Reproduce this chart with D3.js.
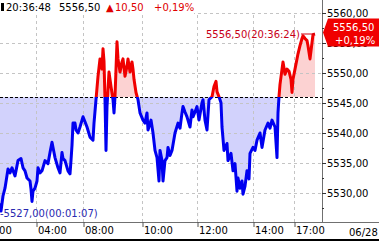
<!DOCTYPE html>
<html><head><meta charset="utf-8">
<script src="https://cdn.jsdelivr.net/npm/d3@7"></script>
<style>body{margin:0;background:#fff}svg{display:block;font-family:"DejaVu Sans",sans-serif}</style>
</head><body><svg id="c" width="379" height="242"></svg>
<script>
// sample index (trade sequence) and price
const bars = [
  0,1,3,5,8,10,12,15,18,21,
  23,25,27,30,31,32,33,35,37,38,
  40,42,45,48,50,52,54,55,58,60,
  62,63,65,68,70,71,72,73,75,76,
  78,80,83,85,87,90,93,94,96,98,
  100,102,103,104,105,106,107,109,111,113,
  114,115,116,117,118,120,122,123,125,127,
  128,130,132,133,134,136,138,140,143,145,
  147,148,151,153,155,157,159,160,162,163,
  165,167,168,170,172,175,178,180,182,183,
  185,187,190,192,193,195,197,199,202,203,
  205,207,209,212,214,216,217,219,221,222,
  224,227,228,231,233,235,237,238,240,242,
  243,245,247,249,250,253,255,257,260,262,
  265,268,270,272,275,277,278,279,280,283,
  285,287,289,291,292,293,295,298,300,302,
  303,305,307,308,310,312,313,315
];
const prices = [
  5528.3,5527.0,5529.5,5530.8,5534.0,5533.35,5534.2,5532.85,5535.4,5535.75,
  5534.2,5533.7,5532.5,5532.0,5530.65,5528.6,5530.3,5530.8,5532.0,5534.2,
  5533.35,5533.7,5535.4,5534.9,5536.75,5538.45,5536.75,5535.9,5534.2,5533.35,
  5536.75,5535.75,5535.4,5533.7,5533.2,5535.4,5537.95,5541.65,5541.65,5540.5,
  5540.0,5541.0,5542.7,5541.85,5541.0,5539.3,5538.8,5541.65,5545.55,5549.45,
  5552.35,5550.65,5554.05,5552.0,5545.55,5537.1,5544.4,5550.15,5547.75,5545.55,
  5543.35,5546.05,5550.65,5555.2,5552.35,5550.15,5551.85,5552.35,5549.45,5551.15,
  5552.35,5550.15,5551.85,5550.65,5548.95,5546.75,5545.55,5543.35,5542.15,5541.65,
  5543.35,5540.5,5542.15,5540.0,5537.1,5535.9,5532.0,5537.1,5535.4,5532.0,
  5535.4,5535.9,5537.6,5536.25,5537.1,5540.0,5541.65,5540.8,5543.35,5544.4,
  5543.5,5542.7,5541.0,5543.85,5542.7,5543.5,5544.4,5542.15,5545.05,5545.55,
  5542.15,5540.5,5545.55,5546.05,5547.75,5548.6,5546.9,5546.05,5545.05,5541.0,
  5537.1,5538.25,5535.4,5536.6,5533.7,5534.9,5530.3,5532.5,5530.8,5532.0,
  5529.8,5531.15,5533.7,5532.35,5536.6,5537.6,5537.1,5538.8,5540.0,5537.6,
  5540.5,5541.65,5540.8,5542.15,5541.0,5535.9,5543.35,5546.05,5548.1,5551.85,
  5549.8,5550.65,5550.3,5548.95,5546.75,5548.95,5550.65,5553.2,5554.55,5555.75,
  5556.2,5555.75,5555.4,5554.55,5552.35,5555.05,5556.4,5556.5
];
const prevClose = 5546.0;
const lastTime = "20:36:48";
const lastPrice = 5556.5;
const change = 10.5;
const changePct = 0.19;
const highPrice = 5556.5, highTime = "20:36:24", highBar = 315;
const lowPrice = 5527.0, lowTime = "00:01:07", lowBar = 1;
const xTickBars = [-19, 36, 83, 142, 197, 253, 294];
const xTickLabels = ["00:00","04:00","08:00","10:00","12:00","14:00","17:00"];
const yTicks = [5530, 5535, 5540, 5545, 5550, 5555, 5560];
const yMinorTicks = [5527.5, 5532.5, 5537.5, 5542.5, 5547.5, 5552.5, 5557.5];
const dateLabel = "06/28";

const data = bars.map((b, i) => ({b, p: prices[i]}));
const fmt = v => d3.format(".2f")(v).replace(".", ",");

const W = 379, H = 242, axisX = 322, axisY = 222;
const svg = d3.select("#c");
const x = d3.scaleLinear().domain([0, 321]).range([0, 321]);
const y = d3.scaleLinear().domain([5530, 5560]).range([193, 13]);
const yRef = y(prevClose);

const defs = svg.append("defs");
defs.append("clipPath").attr("id", "above").append("rect")
  .attr("x", 0).attr("y", 0).attr("width", axisX).attr("height", yRef);
defs.append("clipPath").attr("id", "below").append("rect")
  .attr("x", 0).attr("y", yRef).attr("width", axisX).attr("height", axisY - yRef);

const area = d3.area().x(d => x(d.b)).y0(yRef).y1(d => y(d.p));
const line = d3.line().x(d => x(d.b)).y(d => y(d.p));

svg.append("path").datum(data).attr("d", area).attr("fill", "#d2d2fc").attr("clip-path", "url(#below)");
svg.append("path").datum(data).attr("d", area).attr("fill", "#fcd2d2").attr("clip-path", "url(#above)");

// grid
const grid = svg.append("g").attr("stroke", "#c4c4c4").attr("stroke-dasharray", "3,3").attr("stroke-width", 1);
grid.selectAll(".h").data(yTicks).join("line")
  .attr("x1", 0).attr("x2", axisX).attr("y1", d => Math.round(y(d)) + 0.5).attr("y2", d => Math.round(y(d)) + 0.5);
grid.selectAll(".v").data(xTickBars).join("line")
  .attr("x1", d => Math.round(x(d)) + 0.5).attr("x2", d => Math.round(x(d)) + 0.5).attr("y1", 15).attr("y2", axisY);

// reference line
svg.append("line").attr("x1", 0).attr("x2", axisX).attr("y1", Math.round(yRef) + 0.5).attr("y2", Math.round(yRef) + 0.5)
  .attr("stroke", "#000").attr("stroke-dasharray", "3,2");

// price line
svg.append("path").datum(data).attr("d", line).attr("fill", "none").attr("stroke", "#0000f0")
  .attr("stroke-width", 3).attr("stroke-linejoin", "round").attr("clip-path", "url(#below)");
svg.append("path").datum(data).attr("d", line).attr("fill", "none").attr("stroke", "#f00000")
  .attr("stroke-width", 3).attr("stroke-linejoin", "round").attr("clip-path", "url(#above)");

// high / low labels
svg.append("line").attr("x1", x(highBar) - 14).attr("x2", x(highBar)).attr("y1", y(highPrice)).attr("y2", y(highPrice))
  .attr("stroke", "#d00010").attr("stroke-width", 1);
svg.append("text").attr("x", x(highBar) - 15).attr("y", y(highPrice) + 3.5).attr("text-anchor", "end")
  .attr("font-size", 10).attr("fill", "#c80018").text(fmt(highPrice) + "(" + highTime + ")");
svg.append("text").attr("x", x(lowBar) - 1).attr("y", y(lowPrice) + 6).attr("font-size", 10)
  .attr("fill", "#2828b0").text("-" + fmt(lowPrice) + "(" + lowTime + ")");

// axes frame
svg.append("line").attr("x1", axisX + 0.5).attr("x2", axisX + 0.5).attr("y1", 0).attr("y2", axisY).attr("stroke", "#707070");
svg.append("line").attr("x1", 0).attr("x2", W).attr("y1", axisY + 0.5).attr("y2", axisY + 0.5).attr("stroke", "#707070");
svg.append("line").attr("x1", 0).attr("x2", W).attr("y1", 240).attr("y2", 240).attr("stroke", "#000").attr("stroke-width", 2);

// y axis
const ya = svg.append("g").attr("transform", `translate(${axisX},0)`)
  .call(d3.axisRight(y).tickValues(yTicks).tickSize(4).tickPadding(1).tickFormat(fmt));
ya.select(".domain").remove();
ya.selectAll("text").attr("font-size", 10).attr("font-family", "DejaVu Sans").attr("fill", "#000");
ya.selectAll("line").attr("stroke", "#333");
const ym = svg.append("g").attr("transform", `translate(${axisX},0)`)
  .call(d3.axisRight(y).tickValues(yMinorTicks).tickSize(2).tickFormat(""));
ym.select(".domain").remove();
ym.selectAll("line").attr("stroke", "#333");

// x axis
const xa = svg.append("g").attr("transform", `translate(0,${axisY})`)
  .call(d3.axisBottom(x).tickValues(xTickBars).tickSize(5).tickFormat((d, i) => xTickLabels[i]));
xa.select(".domain").remove();
xa.selectAll("line").attr("stroke", "#555").attr("transform", "translate(0.5,0)");
xa.selectAll("text").attr("text-anchor", "start").attr("dx", 1.5).attr("y", 5).attr("dy", "0.71em")
  .attr("font-size", 10).attr("font-family", "DejaVu Sans").attr("fill", "#000");
svg.append("text").attr("x", 349).attr("y", 236).attr("font-size", 10).attr("fill", "#000").text(dateLabel);

// last price box
const yp = y(lastPrice) - 1.5;
svg.append("path").attr("d", `M${axisX + 1},${yp} L${axisX + 6},${yp - 14} L${W},${yp - 14} L${W},${yp + 14} L${axisX + 6},${yp + 14} Z`)
  .attr("fill", "#f00000");
svg.append("text").attr("x", 333).attr("y", yp - 2).attr("font-size", 10).attr("fill", "#fff").text(fmt(lastPrice));
svg.append("text").attr("x", 335).attr("y", yp + 11).attr("font-size", 10).attr("fill", "#fff")
  .text("+" + fmt(changePct) + "%");

// header
svg.append("rect").attr("x", 0).attr("y", 0).attr("width", 194).attr("height", 15).attr("fill", "#fff");
svg.append("rect").attr("x", 1).attr("y", 3).attr("width", 3).attr("height", 8).attr("fill", "#000");
const hdr = [
  {x: 6, t: lastTime, c: "#000"},
  {x: 59, t: fmt(lastPrice), c: "#000"},
  {x: 106, t: "\u25B2", c: "#e00000"},
  {x: 115, t: fmt(change), c: "#e00000"},
  {x: 154, t: "+" + fmt(changePct) + "%", c: "#e00000"}
];
svg.selectAll(".hdr").data(hdr).join("text").attr("x", d => d.x).attr("y", 11).attr("font-size", 10)
  .attr("fill", d => d.c).text(d => d.t);
</script></body></html>
